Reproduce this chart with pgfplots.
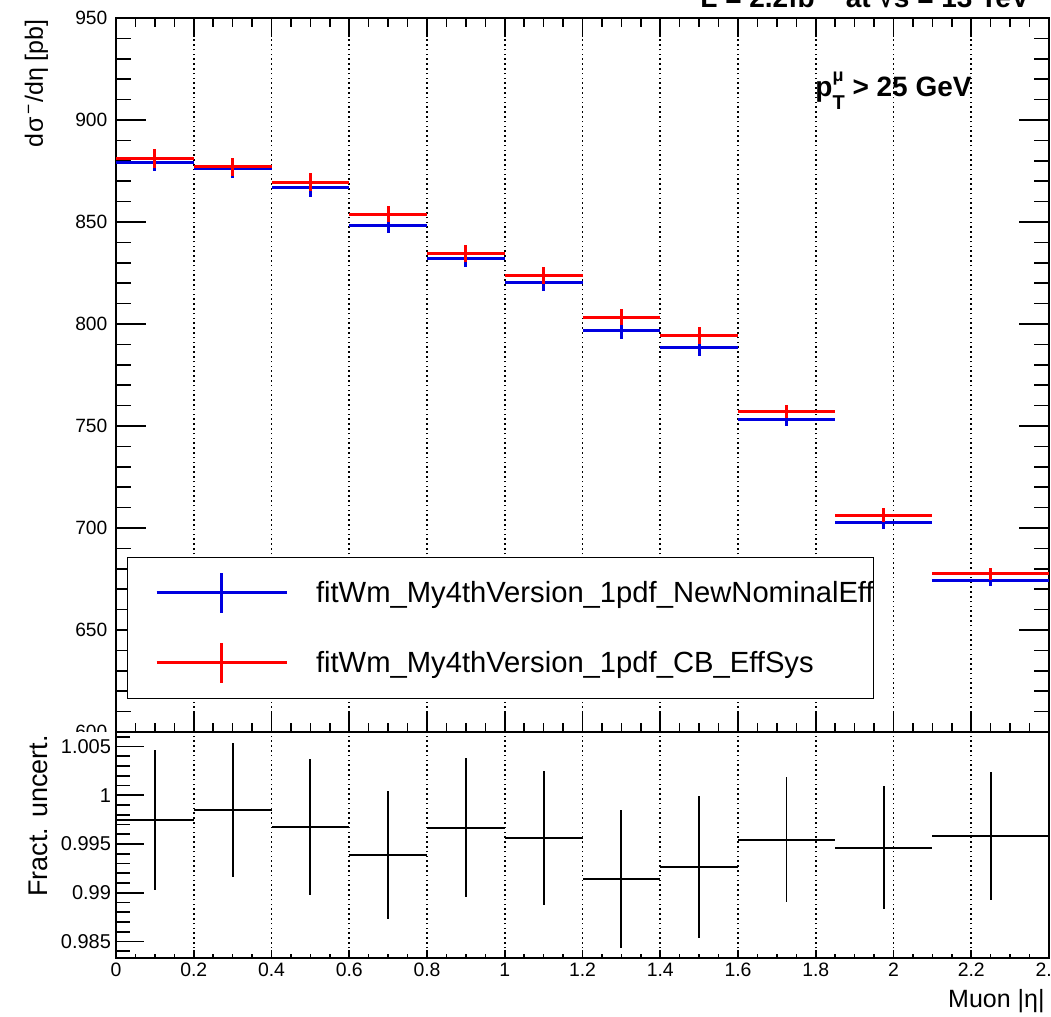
\documentclass[border=0pt]{standalone}
\usepackage{fontspec}
\setmainfont{Liberation Sans}
\usepackage{pgfplots}
\pgfplotsset{compat=1.18}
\usepackage{pgfplotstable}

\definecolor{rootblue}{rgb}{0,0,0.88}
\definecolor{rootred}{rgb}{1,0,0}

\pgfplotstableread{
x ex y ey
0.1   0.1   879.3 4.5
0.3   0.1   876.1 4.4
0.5   0.1   866.7 4.3
0.7   0.1   848.5 3.9
0.9   0.1   831.9 3.9
1.1   0.1   820.1 3.9
1.3   0.1   796.6 4.1
1.5   0.1   788.6 4.2
1.725 0.125 753.4 3.4
1.975 0.125 702.5 3.2
2.25  0.15  674.5 2.9
}\tabBlue

\pgfplotstableread{
x ex y ey
0.1   0.1   881.2 4.5
0.3   0.1   877.1 4.5
0.5   0.1   869.5 4.4
0.7   0.1   853.9 4.1
0.9   0.1   834.6 4.1
1.1   0.1   823.7 4.1
1.3   0.1   803.4 3.9
1.5   0.1   794.3 4.1
1.725 0.125 757.0 3.3
1.975 0.125 706.2 3.4
2.25  0.15  677.6 2.9
}\tabRed

\pgfplotstableread{
x ex y ey
0.1   0.1   0.99747 0.0072
0.3   0.1   0.99849 0.0069
0.5   0.1   0.99672 0.0070
0.7   0.1   0.99388 0.0066
0.9   0.1   0.99668 0.0071
1.1   0.1   0.99562 0.0069
1.3   0.1   0.99141 0.0071
1.5   0.1   0.99265 0.0073
1.725 0.125 0.99545 0.0064
1.975 0.125 0.99460 0.0063
2.25  0.15  0.99583 0.0066
}\tabRatio

\begin{document}
\begin{tikzpicture}
\pgfplotsset{
  rootframe/.style={
    scale only axis, width=466.5pt,
    xmin=0, xmax=2.4,
    xtick={0,0.2,0.4,0.6,0.8,1,1.2,1.4,1.6,1.8,2,2.2,2.4},
    minor x tick num=3,
    tick align=inside,
    axis line style={line width=1pt, black},
    tick style={black, line width=0.8pt},
    xmajorgrids,
    major x grid style={black, line width=0.8pt, dash pattern=on 0.8pt off 1.6pt},
    /pgf/number format/assume math mode=true,
  },
  binlegend/.style={
    legend image code/.code={
      \path (-14.5pt,0pt);
      \draw[line width=1.5pt, draw=#1] (0pt,0pt) -- (65pt,0pt);
      \draw[line width=1.5pt, draw=#1] (32.5pt,-10pt) -- (32.5pt,10pt);
    }
  }
}
% ---------------- top panel ----------------
\begin{axis}[rootframe,
  at={(58pt,142.5pt)}, anchor=south west, height=357pt,
  ymin=600, ymax=950,
  ytick={600,650,700,750,800,850,900,950},
  minor y tick num=4,
  xticklabels={},
  xtick style={/pgfplots/major tick length=9.5pt, /pgfplots/minor tick length=4.5pt},
  ytick style={/pgfplots/major tick length=15pt, /pgfplots/minor tick length=7.5pt},
  yticklabel style={font=\fontsize{9.6}{10}\selectfont, xshift=-0.8pt},
  legend style={at={(0.01179,0.2451)}, anchor=north west,
    draw=black, line width=0.5pt, fill=white,
    inner xsep=0pt, inner ysep=7pt, row sep=13.5pt, column sep=14pt,
    font=\fontsize{14.6}{16}\selectfont,
    nodes={inner sep=0pt}, cells={anchor=west}},
]
\addplot[draw=none, mark=none, binlegend=rootblue,
  error bars/.cd, x dir=both, x explicit, y dir=both, y explicit, error mark=none,
  error bar style={line width=1.5pt, draw=rootblue, solid}]
  table[x=x, y=y, x error=ex, y error=ey] {\tabBlue};
\addlegendentry{fitWm\_My4thVersion\_1pdf\_NewNominalEff}
\addplot[draw=none, mark=none, binlegend=rootred,
  error bars/.cd, x dir=both, x explicit, y dir=both, y explicit, error mark=none,
  error bar style={line width=1.5pt, draw=rootred, solid}]
  table[x=x, y=y, x error=ex, y error=ey] {\tabRed};
\addlegendentry{fitWm\_My4thVersion\_1pdf\_CB\_EffSys}
\end{axis}

% cover of the top pad under the lower pad
\fill[white] (0pt,0pt) rectangle (57.5pt,142.5pt);

% ---------------- ratio panel ----------------
\begin{axis}[rootframe,
  at={(58pt,29.5pt)}, anchor=south west, height=113pt,
  ymin=0.98331, ymax=1.00649,
  ytick={0.985,0.99,0.995,1,1.005},
  yticklabels={0.985,0.99,0.995,1,1.005},
  minor ytick={0.984,0.986,0.987,0.988,0.989,0.991,0.992,0.993,0.994,0.996,0.997,0.998,0.999,1.001,1.002,1.003,1.004,1.006},
  xticklabels={0,0.2,0.4,0.6,0.8,1,1.2,1.4,1.6,1.8,2,2.2,2.4},
  xtick pos=lower, ytick pos=left,
  xtick style={/pgfplots/major tick length=4pt, /pgfplots/minor tick length=2pt},
  ytick style={/pgfplots/major tick length=14pt, /pgfplots/minor tick length=7pt},
  yticklabel style={font=\fontsize{10}{10}\selectfont, xshift=1pt},
  xticklabel style={font=\fontsize{9.7}{10}\selectfont, yshift=1.2pt},
]
\addplot[draw=none, mark=none,
  error bars/.cd, x dir=both, x explicit, y dir=both, y explicit, error mark=none,
  error bar style={line width=0.9pt, draw=black, solid}]
  table[x=x, y=y, x error=ex, y error=ey] {\tabRatio};
\end{axis}

% ---------------- texts ----------------
\node[rotate=90, anchor=east, inner sep=0pt, font=\fontsize{12.5}{13}\selectfont]
  at (18.25pt,499pt) {d\kern0.04emσ\textsuperscript{\,−}/dη [pb]};
\node[rotate=90, anchor=east, inner sep=0pt, font=\fontsize{13.5}{14}\selectfont]
  at (19.25pt,141pt) {Fract. uncert.};
\node[anchor=base east, inner sep=0pt, font=\fontsize{12.5}{13}\selectfont]
  at (522.5pt,4.5pt) {Muon |η|};
\node[anchor=base west, inner sep=0pt, font=\bfseries\fontsize{14}{15}\selectfont]
  at (407.5pt,460pt) {p\rlap{\raisebox{0.55em}{\fontsize{9}{9}\selectfont μ}}\raisebox{-0.45em}{\fontsize{10}{10}\selectfont T} > 25 GeV};
\node[anchor=base east, inner sep=0pt, font=\bfseries\fontsize{14}{15}\selectfont]
  at (515pt,504.85pt) {L = 2.2fb\textsuperscript{−1} at √s = 13 TeV};

\pgfresetboundingbox
\useasboundingbox (0pt,0pt) rectangle (525.5pt,508.5pt);
\end{tikzpicture}
\end{document}
